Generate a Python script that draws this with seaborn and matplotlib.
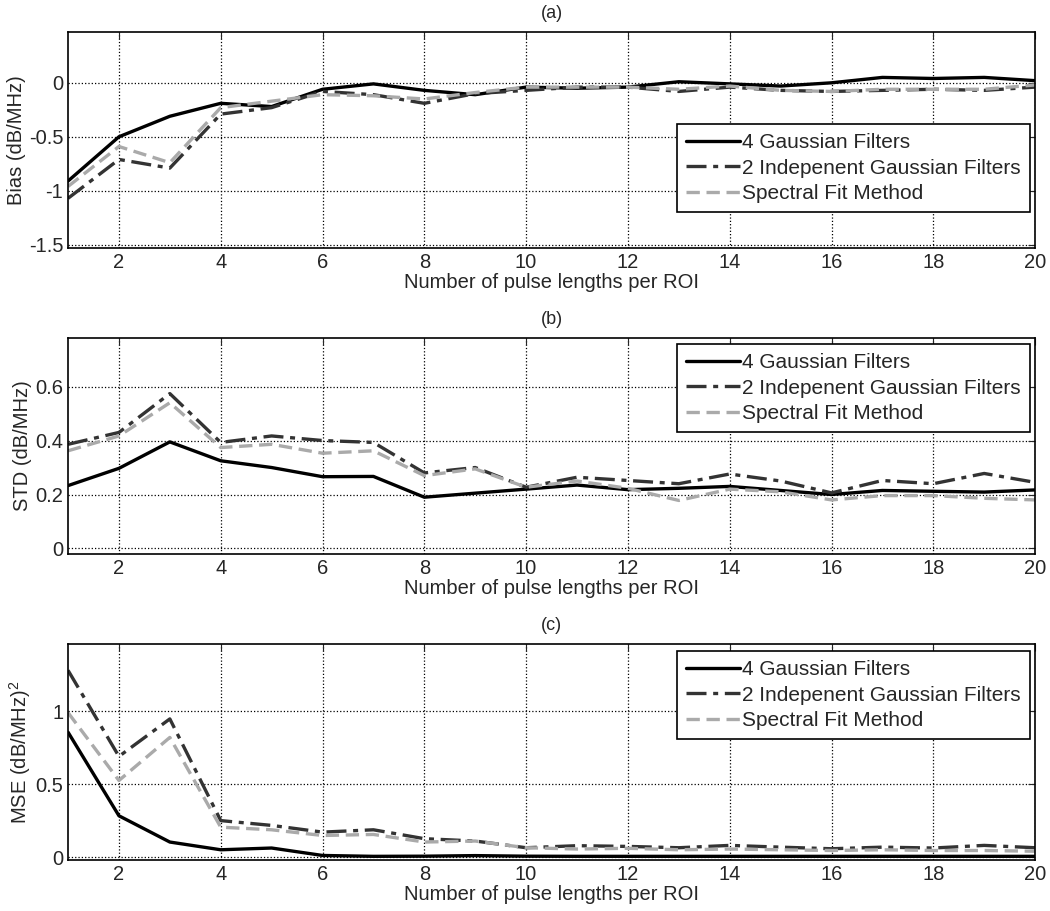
import numpy as np
import pandas as pd
import seaborn as sns
import matplotlib.pyplot as plt

pulses = list(range(1, 21))
series_names = ['4 Gaussian Filters', '2 Indepenent Gaussian Filters', 'Spectral Fit Method']

bias_4g = [-0.91, -0.50, -0.31, -0.19, -0.22, -0.06, -0.01, -0.07, -0.11, -0.04,
           -0.05, -0.04, 0.01, -0.01, -0.03, 0.00, 0.05, 0.04, 0.05, 0.02]
bias_2g = [-1.07, -0.71, -0.79, -0.29, -0.23, -0.08, -0.11, -0.19, -0.10, -0.07,
           -0.04, -0.04, -0.08, -0.04, -0.07, -0.08, -0.07, -0.06, -0.07, -0.04]
bias_sf = [-0.96, -0.59, -0.74, -0.23, -0.17, -0.11, -0.12, -0.15, -0.09, -0.04,
           -0.04, -0.04, -0.06, -0.03, -0.07, -0.08, -0.06, -0.06, -0.06, -0.02]

std_4g = [0.233, 0.297, 0.395, 0.325, 0.300, 0.266, 0.267, 0.190, 0.205, 0.220,
          0.235, 0.218, 0.223, 0.230, 0.215, 0.200, 0.215, 0.212, 0.209, 0.217]
std_2g = [0.386, 0.430, 0.574, 0.393, 0.417, 0.400, 0.393, 0.280, 0.300, 0.227,
          0.264, 0.252, 0.240, 0.276, 0.250, 0.206, 0.252, 0.240, 0.278, 0.245]
std_sf = [0.362, 0.417, 0.540, 0.374, 0.386, 0.353, 0.362, 0.270, 0.295, 0.227,
          0.250, 0.223, 0.178, 0.220, 0.210, 0.180, 0.196, 0.196, 0.186, 0.180]

mse_4g = [0.856, 0.283, 0.103, 0.050, 0.062, 0.011, 0.005, 0.006, 0.010, 0.006,
          0.005, 0.005, 0.005, 0.005, 0.005, 0.005, 0.005, 0.005, 0.005, 0.005]
mse_2g = [1.28, 0.69, 0.947, 0.250, 0.217, 0.171, 0.187, 0.126, 0.110, 0.064,
          0.078, 0.073, 0.064, 0.080, 0.068, 0.057, 0.068, 0.062, 0.080, 0.064]
mse_sf = [0.99, 0.525, 0.82, 0.205, 0.187, 0.148, 0.155, 0.103, 0.110, 0.064,
          0.055, 0.060, 0.050, 0.055, 0.050, 0.045, 0.050, 0.045, 0.045, 0.040]

sns.set_style("white")
plt.rcParams['font.family'] = ['Liberation Sans', 'DejaVu Sans']
plt.rcParams['mathtext.fontset'] = 'custom'
plt.rcParams['mathtext.rm'] = 'Liberation Sans'

colors = ['black', '#333333', '#aaaaaa']
dashes = [None, (6, 2, 1.5, 2), (4, 2)]

panels = [
    ('(a)', 'Bias (dB/MHz)', [bias_4g, bias_2g, bias_sf], (-1.53, 0.47), [-1.5, -1, -0.5, 0],
     ['-1.5', '-1', '-0.5', '0'], (0.995, 0.574)),
    ('(b)', 'STD (dB/MHz)', [std_4g, std_2g, std_sf], (-0.02, 0.78), [0, 0.2, 0.4, 0.6],
     ['0', '0.2', '0.4', '0.6'], (0.995, 0.972)),
    ('(c)', 'MSE (dB/MHz)$^2$', [mse_4g, mse_2g, mse_sf], (-0.02, 1.46), [0, 0.5, 1],
     ['0', '0.5', '1'], (0.995, 0.968)),
]
bottoms = [0.7278, 0.392, 0.056]

fig = plt.figure(figsize=(10.5, 9.11), dpi=100)
for (title, ylabel, vals, ylim, yt, ytl, lpos), b in zip(panels, bottoms):
    ax = fig.add_axes([0.0648, b, 0.921, 0.237])
    for name, v, c, d in zip(series_names, vals, colors, dashes):
        df = pd.DataFrame({'x': pulses, 'y': v})
        sns.lineplot(data=df, x='x', y='y', ax=ax, color=c, lw=2.4, label=name)
        if d is not None:
            ax.lines[-1].set_dashes(d)
    ax.set_xlim(1, 20)
    ax.set_ylim(*ylim)
    ax.set_xticks(range(2, 21, 2))
    ax.set_yticks(yt)
    ax.set_yticklabels(ytl)
    ax.grid(True, color='black', linestyle=':', linewidth=0.9)
    ax.tick_params(direction='in', top=True, right=True, labelsize=14.5, length=5)
    for s in ax.spines.values():
        s.set_color('black')
        s.set_linewidth(1.2)
    ax.set_title(title, fontsize=13, pad=10)
    ax.set_xlabel('Number of pulse lengths per ROI', fontsize=14.5, labelpad=1)
    ax.set_ylabel(ylabel, fontsize=14.5, labelpad=2)
    leg = ax.legend(loc='upper right', bbox_to_anchor=lpos, fontsize=15, frameon=True,
                    fancybox=False, edgecolor='black', framealpha=1, handlelength=2.6,
                    handletextpad=0.1, borderpad=0.45, labelspacing=0.3, borderaxespad=0)
    leg.get_frame().set_linewidth(1.2)

fig.savefig('out.png', dpi=100)
